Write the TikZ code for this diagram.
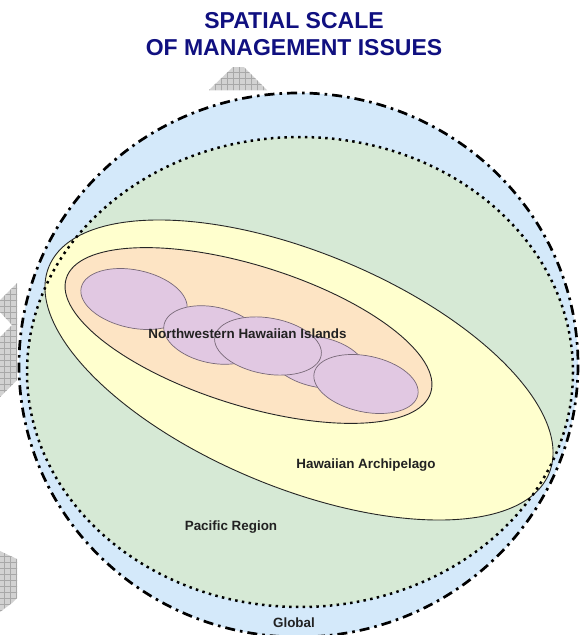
\documentclass[tikz,border=0pt]{standalone}
\usepackage{fontspec}
\setmainfont{Liberation Sans}
\definecolor{titleblue}{RGB}{16,16,128}
\definecolor{labelgray}{RGB}{34,34,34}
\definecolor{globalblue}{RGB}{212,233,250}
\definecolor{pacificgreen}{RGB}{214,233,213}
\definecolor{archyellow}{RGB}{255,255,206}
\definecolor{nwhiorange}{RGB}{253,228,196}
\definecolor{islandpurple}{RGB}{225,200,226}
\definecolor{islandedge}{RGB}{120,105,120}
\definecolor{tilegray}{RGB}{210,210,210}
\definecolor{tileline}{RGB}{168,168,168}
\begin{document}
\begin{tikzpicture}[x=1pt,y=-1pt,
  heading/.style={font=\fontsize{23}{27}\selectfont\bfseries, text=titleblue, align=center, inner sep=0},
  regionlabel/.style={font=\fontsize{13.4}{15}\selectfont\bfseries, text=labelgray, anchor=base, inner sep=0},
  globalring/.style={draw=black, line width=2.7pt, dash pattern=on 10pt off 5pt on 2.6pt off 5pt},
  pacificring/.style={draw=black, line width=2.5pt, dash pattern=on 2.5pt off 4.3pt},
  zoneline/.style={draw=black!85, line width=0.9pt},
  island/.style={fill=islandpurple, draw=islandedge, line width=0.7pt},
  tile/.style={fill=tilegray},
  tilegrid/.style={draw=tileline, line width=0.5pt}
]
\useasboundingbox (0,0) rectangle (581,635);

% grey tiled shapes in the background
\begin{scope}
  \path[tile] (209,90) -- (233,67) -- (244,67) -- (267,90) -- cycle;
  \clip (209,90) -- (233,67) -- (244,67) -- (267,90) -- cycle;
  \foreach \gx in {203,209,...,275} \draw[tilegrid] (\gx,60) -- (\gx,95);
  \foreach \gy in {66,72,...,94} \draw[tilegrid] (200,\gy) -- (280,\gy);
\end{scope}
\begin{scope}
  \path[tile] (0,300) -- (17,283) -- (17,380) -- (0,397) -- (0,337) -- (12,325) -- (0,312) -- cycle;
  \clip (0,300) -- (17,283) -- (17,380) -- (0,397) -- (0,337) -- (12,325) -- (0,312) -- cycle;
  \foreach \gx in {4,10,16} \draw[tilegrid] (\gx,280) -- (\gx,400);
  \foreach \gy in {282,288,...,400} \draw[tilegrid] (0,\gy) -- (20,\gy);
\end{scope}
\begin{scope}
  \path[tile] (0,551) -- (17,559) -- (17,598) -- (12,603) -- (0,612) -- cycle;
  \clip (0,551) -- (17,559) -- (17,598) -- (12,603) -- (0,612) -- cycle;
  \foreach \gx in {4,10,16} \draw[tilegrid] (\gx,545) -- (\gx,615);
  \foreach \gy in {550,556,...,614} \draw[tilegrid] (0,\gy) -- (20,\gy);
\end{scope}

% nested regions
\fill[globalblue] (298.5,365) ellipse [x radius=279.5, y radius=272];
\fill[pacificgreen] (300,372) ellipse [x radius=273, y radius=235];

\path[zoneline, fill=archyellow, rotate around={-22.5:(299,370)}]
  (299,370) ellipse [x radius=270.6, y radius=117.5];
\path[zoneline, fill=nwhiorange, rotate around={-17.4:(248.5,335.5)}]
  (248.5,335.5) ellipse [x radius=191, y radius=70];

% islands of the chain
\path[island, rotate around={-12:(134,299)}] (134,299) ellipse [x radius=54, y radius=29];
\path[island, rotate around={-12:(213,335)}] (213,335) ellipse [x radius=50, y radius=28];
\path[island, rotate around={-12:(318,362)}] (318,362) ellipse [x radius=48, y radius=25];
\path[island, rotate around={-10:(268,346)}] (268,346) ellipse [x radius=54, y radius=28];
\path[island, rotate around={-12:(366,384)}] (366,384) ellipse [x radius=53, y radius=28];

% boundaries of the two outer scales
\path[pacificring] (300,372) ellipse [x radius=273, y radius=235];
\path[globalring] (298.5,365) ellipse [x radius=279.5, y radius=272];

% labels
\node[heading, anchor=base] (title) at (294,55) {SPATIAL SCALE\\OF MANAGEMENT ISSUES};
\node[regionlabel] (nwhi) at (247.5,338) {Northwestern Hawaiian Islands};
\node[regionlabel] (arch) at (366,468) {Hawaiian Archipelago};
\node[regionlabel] (pacific) at (231,530) {Pacific Region};
\node[regionlabel] (global) at (294,627) {Global};
\end{tikzpicture}
\end{document}
